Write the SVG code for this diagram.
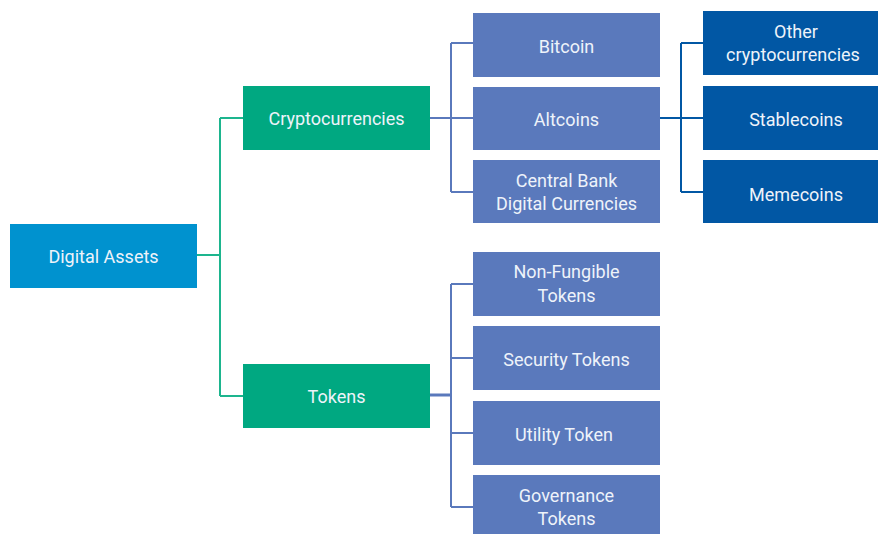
<svg xmlns="http://www.w3.org/2000/svg" width="878" height="534" viewBox="0 0 878 534">
<style>
.t{font-family:Roboto,"Liberation Sans",sans-serif;font-size:18px;fill:#EEF3FA;text-anchor:middle;dominant-baseline:central}
.root{fill:#0092CF}
.grn{fill:#00A881}
.mid{fill:#5A79BC}
.dk{fill:#0157A4}
.cg{stroke:#1DB58E;stroke-width:2;fill:none}
.cb{stroke:#5A79BC;stroke-width:2;fill:none}
.cd{stroke:#0157A4;stroke-width:2;fill:none}
</style>
<rect width="878" height="534" fill="#fff"/>
<g id="connectors">
<path class="cg" d="M197 255H220M220 118V396M220 118H243M220 396H243"/>
<path class="cb" d="M430 118H473M451 43V192M451 43H473M451 192H473"/>
<path class="cd" d="M660 118H703M681 43V192M681 43H703M681 192H703"/>
<path class="cb" d="M430 395H451" style="stroke-width:3"/>
<path class="cb" d="M451 284V507M451 284H473M451 358H473M451 433H473M451 507H473"/>
</g>
<g id="digital-assets"><rect class="root" x="10" y="224" width="187" height="64"/><text class="t" x="103.5" y="256">Digital Assets</text></g>
<g id="cryptocurrencies"><rect class="grn" x="243" y="86" width="187" height="64"/><text class="t" x="336.5" y="118">Cryptocurrencies</text></g>
<g id="tokens"><rect class="grn" x="243" y="364" width="187" height="64"/><text class="t" x="336.5" y="396">Tokens</text></g>
<g id="bitcoin"><rect class="mid" x="473" y="13" width="187" height="64"/><text class="t" x="566.5" y="46">Bitcoin</text></g>
<g id="altcoins"><rect class="mid" x="473" y="87" width="187" height="63"/><text class="t" x="566.5" y="119">Altcoins</text></g>
<g id="cbdc"><rect class="mid" x="473" y="160" width="187" height="63"/><text class="t" x="566.5" y="180">Central Bank</text><text class="t" x="566.5" y="203">Digital Currencies</text></g>
<g id="other"><rect class="dk" x="703" y="11" width="175" height="64"/><text class="t" x="796" y="31">Other</text><text class="t" x="793" y="54">cryptocurrencies</text></g>
<g id="stablecoins"><rect class="dk" x="703" y="86" width="175" height="64"/><text class="t" x="796" y="119">Stablecoins</text></g>
<g id="memecoins"><rect class="dk" x="703" y="160" width="175" height="63"/><text class="t" x="796" y="194">Memecoins</text></g>
<g id="nft"><rect class="mid" x="473" y="252" width="187" height="64"/><text class="t" x="566.5" y="271">Non-Fungible</text><text class="t" x="566.5" y="295">Tokens</text></g>
<g id="security"><rect class="mid" x="473" y="326" width="187" height="64"/><text class="t" x="566.5" y="359">Security Tokens</text></g>
<g id="utility"><rect class="mid" x="473" y="401" width="187" height="64"/><text class="t" x="564" y="434">Utility Token</text></g>
<g id="governance"><rect class="mid" x="473" y="475" width="187" height="59"/><text class="t" x="566.5" y="495">Governance</text><text class="t" x="566.5" y="518">Tokens</text></g>
</svg>
